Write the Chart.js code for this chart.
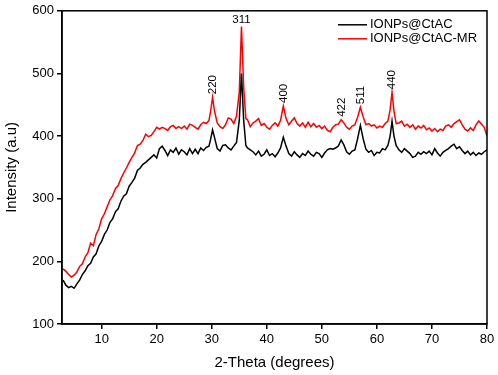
<!DOCTYPE html>
<html lang="en">
<head>
  <meta charset="UTF-8">
  <title>XRD</title>
  <script src="https://cdn.jsdelivr.net/npm/chart.js@4/dist/chart.umd.min.js"></script>
  <style>
    html, body { margin: 0; padding: 0; background: #fff; }
  </style>
</head>
<body>
<canvas id="xrd" width="498" height="375"></canvas>
<script>
// 2-theta positions (degrees)
const theta = [
  3, 3.5, 4, 4.5, 5, 5.5, 6, 6.5, 7, 7.5,
  8, 8.5, 9, 9.5, 10, 10.5, 11, 11.5, 12, 12.5,
  13, 13.5, 14, 14.5, 15, 15.5, 16, 16.5, 17, 17.5,
  18, 18.5, 19, 19.5, 20, 20.5, 21, 21.5, 22, 22.5,
  23, 23.5, 24, 24.5, 25, 25.5, 26, 26.5, 27, 27.5,
  28, 28.5, 29, 29.5, 29.8, 30.15, 30.5, 31, 31.5, 32,
  32.5, 33, 33.5, 34, 34.5, 35, 35.4, 35.8, 36.2, 36.5,
  37, 37.5, 38, 38.5, 39, 39.5, 40, 40.5, 41, 41.5,
  42, 42.5, 43, 43.5, 44, 44.5, 45, 45.5, 46, 46.5,
  47, 47.5, 48, 48.5, 49, 49.5, 50, 50.5, 51, 51.5,
  52, 52.5, 53, 53.5, 54, 54.5, 55, 55.5, 56, 56.5,
  57, 57.5, 58, 58.5, 59, 59.5, 60, 60.5, 61, 61.5,
  62, 62.4, 62.75, 63.1, 63.5, 64, 64.5, 65, 65.5, 66,
  66.5, 67, 67.5, 68, 68.5, 69, 69.5, 70, 70.5, 71,
  71.5, 72, 72.5, 73, 73.5, 74, 74.5, 75, 75.5, 76,
  76.5, 77, 77.5, 78, 78.5, 79, 79.5, 80
];

// IONPs@CtAC (black)
const ctac = [
  170, 162, 158, 160, 157, 164, 170, 179, 185, 193,
  197, 207, 212, 225, 232, 243, 250, 262, 268, 279,
  284, 296, 304, 308, 320, 326, 333, 345, 349, 355,
  358, 362, 366, 370, 365, 380, 384, 377, 369, 378,
  374, 381, 371, 378, 375, 370, 380, 372, 379, 372,
  381, 377, 382, 384, 395, 410, 398, 380, 376, 385,
  386, 381, 378, 384, 390, 425, 500, 425, 385, 381,
  378, 375, 370, 376, 368, 371, 378, 369, 372, 367,
  373, 381, 398, 384, 372, 368, 375, 370, 366, 372,
  369, 376, 371, 368, 374, 372, 366, 373, 378, 380,
  379, 381, 384, 394, 386, 375, 371, 376, 378, 396,
  417, 396, 379, 374, 377, 369, 374, 373, 380, 378,
  385, 400, 424, 400, 385, 378, 374, 380, 376, 372,
  366, 368, 374, 371, 375, 372, 376, 370, 380, 373,
  368, 374, 377, 380, 384, 387, 380, 383, 377, 372,
  376, 370, 374, 369, 373, 371, 375, 378
];

// IONPs@CtAC-MR (red)
const ctacMr = [
  188, 184, 179, 175, 178, 183, 192, 196, 207, 214,
  229, 225, 243, 252, 268, 276, 287, 298, 305, 316,
  321, 332, 341, 349, 358, 366, 373, 385, 387, 393,
  403, 399, 401, 407, 414, 411, 414, 412, 409, 415,
  417, 412, 415, 412, 416, 411, 419, 417, 414, 411,
  418, 422, 420, 425, 440, 462, 440, 421, 415, 412,
  418, 429, 427, 420, 432, 470, 575, 478, 428, 426,
  415, 421, 424, 428, 417, 420, 414, 411, 417, 421,
  416, 425, 448, 428, 418, 424, 429, 420, 416, 421,
  414, 422, 415, 420, 414, 417, 412, 416, 409, 407,
  414, 418, 419, 426, 421, 414, 411, 416, 418, 430,
  446, 431, 418, 420, 416, 418, 413, 416, 414, 420,
  424, 442, 470, 440, 420, 421, 424, 416, 419, 414,
  418, 411, 416, 413, 417, 410, 413, 408, 412, 407,
  411, 409, 416, 418, 414, 420, 423, 426, 418, 411,
  408, 413, 409, 418, 424, 419, 414, 400
];

const seriesNames = ['IONPs@CtAC', 'IONPs@CtAC-MR'];
const seriesColors = ['#000000', '#ff0000'];
const peakLabels = ['220', '311', '400', '422', '511', '440'];
const peakTheta = [30.15, 35.4, 43.1, 53.6, 57.1, 62.75];
const xTicks = [10, 20, 30, 40, 50, 60, 70, 80];

const FONT = '"Liberation Sans", Arial, sans-serif';

const toPoints = vals => theta.map((t, i) => ({ x: t, y: vals[i] }));

// frame, peak indices and legend
const decor = {
  id: 'decor',
  afterDatasetsDraw(chart) {
    const { ctx, chartArea: a, scales: { x, y } } = chart;
    ctx.save();
    ctx.strokeStyle = '#000';
    ctx.lineWidth = 1.5;
    ctx.strokeRect(a.left, a.top, a.right - a.left, a.bottom - a.top);

    ctx.fillStyle = '#000';
    ctx.font = '11.5px ' + FONT;
    peakLabels.forEach((lab, i) => {
      let top = 0;
      theta.forEach((t, j) => {
        if (Math.abs(t - peakTheta[i]) < 0.3) top = Math.max(top, ctacMr[j]);
      });
      const px = x.getPixelForValue(peakTheta[i]);
      const py = y.getPixelForValue(top) - 3;
      if (lab === '311') {
        ctx.textAlign = 'center';
        ctx.textBaseline = 'bottom';
        ctx.fillText(lab, px, py + 2);
      } else {
        ctx.save();
        ctx.translate(px, py);
        ctx.rotate(-Math.PI / 2);
        ctx.textAlign = 'left';
        ctx.textBaseline = 'middle';
        ctx.fillText(lab, 0, 0);
        ctx.restore();
      }
    });

    ctx.font = '13px ' + FONT;
    ctx.textAlign = 'left';
    ctx.textBaseline = 'middle';
    seriesNames.forEach((name, i) => {
      const ly = a.top + 14 + i * 14;
      ctx.strokeStyle = seriesColors[i];
      ctx.lineWidth = 1.5;
      ctx.beginPath();
      ctx.moveTo(a.right - 149, ly);
      ctx.lineTo(a.right - 120, ly);
      ctx.stroke();
      ctx.fillText(name, a.right - 117, ly);
    });
    ctx.restore();
  }
};

const cChart = new Chart(document.getElementById('xrd'), {
  type: 'line',
  data: {
    datasets: [
      { label: seriesNames[0], data: toPoints(ctac), borderColor: seriesColors[0], borderWidth: 1.5, pointRadius: 0, tension: 0 },
      { label: seriesNames[1], data: toPoints(ctacMr), borderColor: seriesColors[1], borderWidth: 1.5, pointRadius: 0, tension: 0 }
    ]
  },
  options: {
    responsive: false,
    animation: false,
    devicePixelRatio: 1,
    layout: { padding: { top: 9, right: 11, left: 0, bottom: 0 } },
    plugins: { legend: { display: false }, tooltip: { enabled: false } },
    scales: {
      x: {
        type: 'linear',
        min: 2.8,
        max: 80,
        afterBuildTicks: s => { s.ticks = xTicks.map(v => ({ value: v })); },
        afterFit: s => { s.height = 51; },
        ticks: { color: '#000', font: { family: FONT, size: 13 }, padding: 3, maxRotation: 0 },
        grid: { drawOnChartArea: false, drawTicks: true, tickLength: 5, color: '#000', lineWidth: 1.5 },
        border: { color: '#000', width: 1.5 },
        title: { display: true, text: '2-Theta (degrees)', color: '#000', font: { family: FONT, size: 15 }, padding: { top: 0, bottom: 3 } }
      },
      y: {
        min: 100,
        max: 600,
        afterFit: s => { s.width = 62; },
        ticks: { stepSize: 100, color: '#000', font: { family: FONT, size: 13 }, padding: 3 },
        grid: { drawOnChartArea: false, drawTicks: true, tickLength: 5, color: '#000', lineWidth: 1.5 },
        border: { color: '#000', width: 1.5 },
        title: { display: true, text: 'Intensity (a.u)', color: '#000', font: { family: FONT, size: 15 }, padding: { top: 3, bottom: 0 } }
      }
    }
  },
  plugins: [decor]
});
</script>
</body>
</html>
